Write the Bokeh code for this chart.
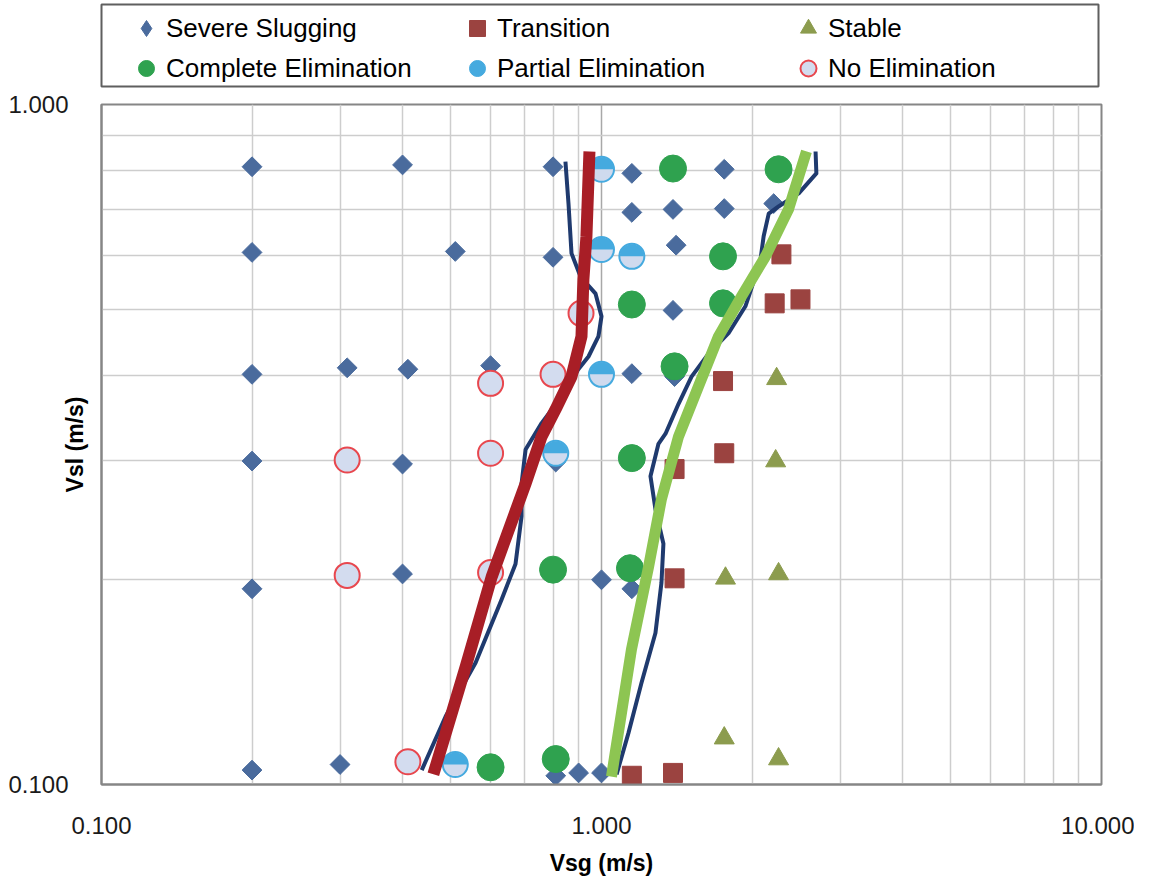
import numpy as np
from bokeh.plotting import figure
from bokeh.layouts import column
from bokeh.models import (FixedTicker, PrintfTickFormatter, Legend, LegendItem,
                          Range1d)
from bokeh.embed import file_html
from bokeh.resources import INLINE

# ---------------- data (Vsg, Vsl in m/s) ----------------
ss_x = [0.20, 0.40, 0.80, 1.15, 1.39, 1.76,
        1.15, 1.39, 1.76, 2.21,
        0.20, 0.51, 0.80, 1.41,
        1.39,
        0.20, 0.31, 0.41, 0.60, 1.15, 1.40,
        0.20, 0.40, 0.81,
        0.20, 0.40, 1.00, 1.15,
        0.20, 0.30, 0.81, 0.90, 1.00]
ss_y = [0.810, 0.815, 0.810, 0.792, 0.805, 0.803,
        0.694, 0.701, 0.703, 0.715,
        0.606, 0.608, 0.596, 0.621,
        0.498,
        0.401, 0.410, 0.408, 0.413, 0.402, 0.398,
        0.299, 0.296, 0.298,
        0.194, 0.204, 0.200, 0.194,
        0.105, 0.107, 0.103, 0.104, 0.104]

tr_x = [2.29, 2.22, 2.50, 1.75, 1.40, 1.76, 1.40, 1.15, 1.39]
tr_y = [0.602, 0.510, 0.517, 0.392, 0.291, 0.307, 0.201, 0.103, 0.104]

st_x = [2.24, 2.23, 1.77, 2.26, 1.76, 2.26]
st_y = [0.395, 0.299, 0.201, 0.204, 0.117, 0.109]

ce_x = [1.39, 2.26, 1.75, 1.15, 1.75, 1.40, 1.15, 0.80, 1.14, 0.60, 0.81]
ce_y = [0.805, 0.803, 0.598, 0.508, 0.510, 0.412, 0.302, 0.207, 0.208, 0.106, 0.109]

pe_x = [1.00, 1.00, 1.15, 1.00, 0.81, 0.51]
pe_y = [0.803, 0.612, 0.598, 0.401, 0.307, 0.107]

ne_x = [0.91, 0.60, 0.80, 0.31, 0.60, 0.31, 0.60, 0.41]
ne_y = [0.493, 0.389, 0.401, 0.300, 0.307, 0.203, 0.205, 0.108]

# thin dark boundary curves
bl_x = [0.847, 0.859, 0.871, 0.908, 0.973, 1.000, 0.986, 0.942, 0.899, 0.832,
        0.759, 0.705, 0.692, 0.692, 0.673, 0.631, 0.560, 0.488, 0.437]
bl_y = [0.824, 0.715, 0.604, 0.558, 0.527, 0.488, 0.456, 0.426, 0.408, 0.372,
        0.340, 0.311, 0.277, 0.248, 0.211, 0.187, 0.151, 0.126, 0.105]
br_x = [2.68, 2.69, 2.48, 2.26, 2.16, 2.11, 2.08, 2.03, 1.94, 1.795, 1.637,
        1.514, 1.426, 1.343, 1.300, 1.253, 1.282, 1.330, 1.318, 1.282, 1.202,
        1.132, 1.072]
br_y = [0.853, 0.792, 0.740, 0.708, 0.691, 0.640, 0.592, 0.558, 0.505, 0.461,
        0.430, 0.398, 0.363, 0.328, 0.317, 0.284, 0.254, 0.226, 0.198, 0.167,
        0.141, 0.119, 0.1035]

# thick trend lines
red_x = [0.946, 0.933, 0.920, 0.912, 0.871, 0.809, 0.759, 0.705, 0.603, 0.535, 0.461]
red_y = [0.853, 0.640, 0.553, 0.456, 0.398, 0.356, 0.325, 0.277, 0.202, 0.149, 0.1035]
grn_x = [1.047, 1.148, 1.242, 1.318, 1.426, 1.563, 1.714, 1.905, 2.128, 2.366, 2.570]
grn_y = [0.1027, 0.158, 0.209, 0.263, 0.325, 0.385, 0.456, 0.522, 0.598, 0.701, 0.853]

x_major = [0.1, 1.0, 10.0]
x_minor = [0.2, 0.3, 0.4, 0.5, 0.6, 0.7, 0.8, 0.9, 2, 3, 4, 5, 6, 7, 8, 9]
y_major = [0.1, 1.0]
y_minor = [0.2, 0.3, 0.4, 0.5, 0.6, 0.7, 0.8, 0.9]

labels = ["Severe Slugging", "Transition", "Stable",
          "Complete Elimination", "Partial Elimination", "No Elimination"]

FONT = "Liberation Sans"
C_SS, C_TR, C_ST, C_CE = "#4A6B9D", "#9B4340", "#8C9C4E", "#2FA24F"
C_PE, C_PE_LO, C_NE, C_NE_FILL = "#45AADF", "#CFDAEE", "#E8474E", "#D3DCEF"

# ---------------- main chart ----------------
p = figure(frame_width=1000, frame_height=680, x_axis_type="log",
           y_axis_type="log", x_range=Range1d(0.1, 10),
           y_range=Range1d(0.1, 1.0), output_backend="svg",
           toolbar_location=None, min_border_left=97, min_border_right=37,
           min_border_top=16, min_border_bottom=91)
p.background_fill_color = "white"
p.border_fill_color = "white"
p.outline_line_color = "#868686"
p.outline_line_width = 2

xt = FixedTicker(ticks=x_major, minor_ticks=x_minor)
yt = FixedTicker(ticks=y_major, minor_ticks=y_minor)
p.xaxis.ticker = xt
p.yaxis.ticker = yt
p.xgrid.ticker = xt
p.ygrid.ticker = yt
for g in (p.xgrid, p.ygrid):
    g.grid_line_color = "#A8A8A8"
    g.grid_line_width = 1.5
    g.minor_grid_line_color = "#CDCDCD"
    g.minor_grid_line_width = 1.5

for ax in (p.xaxis, p.yaxis):
    ax.formatter = PrintfTickFormatter(format="%.3f")
    ax.axis_line_color = "#868686"
    ax.axis_line_width = 2
    ax.major_tick_line_color = None
    ax.minor_tick_line_color = None
    ax.major_label_text_font = FONT
    ax.major_label_text_font_size = "24px"
    ax.major_label_text_color = "#1A1A1A"
    ax.axis_label_text_font = FONT
    ax.axis_label_text_font_size = "23px"
    ax.axis_label_text_font_style = "bold"
    ax.axis_label_text_color = "black"

p.yaxis.major_label_standoff = 27
p.xaxis.major_label_standoff = 26
p.xaxis.axis_label = "Vsg (m/s)"
p.xaxis.axis_label_standoff = 13
p.yaxis.axis_label = "Vsl (m/s)"
p.yaxis.axis_label_standoff = -83

# markers
p.scatter(ss_x, ss_y, marker="square", angle=np.pi / 4, size=14,
          fill_color=C_SS, line_color=C_SS)
p.scatter(tr_x, tr_y, marker="square", size=19, fill_color=C_TR, line_color=C_TR)
p.scatter(st_x, st_y, marker="triangle", size=20, fill_color=C_ST, line_color=C_ST)
p.scatter(ce_x, ce_y, marker="circle", size=27, fill_color=C_CE, line_color=C_CE)
p.scatter(pe_x, pe_y, marker="circle", size=25, fill_color=C_PE_LO,
          line_color=C_PE, line_width=2)
p.wedge(pe_x, pe_y, radius=12, radius_units="screen", start_angle=0,
        end_angle=np.pi, fill_color=C_PE, line_color=None)
p.scatter(ne_x, ne_y, marker="circle", size=25, fill_color=C_NE_FILL,
          line_color=C_NE, line_width=2)

# lines
p.line(bl_x, bl_y, line_color="#1F3A6E", line_width=4, line_join="round")
p.line(br_x, br_y, line_color="#1F3A6E", line_width=4, line_join="round")
p.line(red_x, red_y, line_color="#A81E26", line_width=12, line_join="round")
p.line(grn_x, grn_y, line_color="#8DC552", line_width=11, line_join="round")

# ---------------- legend strip (own small figure; its frame is the box) ----------------
leg = figure(frame_width=997, frame_height=82, x_range=Range1d(0, 1),
             y_range=Range1d(0, 1), output_backend="svg",
             toolbar_location=None, x_axis_location=None,
             y_axis_location=None, min_border_left=101, min_border_right=36,
             min_border_top=4, min_border_bottom=2)
leg.outline_line_color = "#5F5F5F"
leg.outline_line_width = 2
leg.xgrid.visible = False
leg.ygrid.visible = False
off = [-5.0]  # swatch renderers sit outside the visible range
sw = [
    leg.scatter(off, off, marker="diamond", size=20, fill_color=C_SS, line_color=C_SS),
    leg.scatter(off, off, marker="square", size=20, fill_color=C_TR, line_color=C_TR),
    leg.scatter(off, off, marker="triangle", size=20, fill_color=C_ST, line_color=C_ST),
    leg.scatter(off, off, marker="circle", size=20, fill_color=C_CE, line_color=C_CE),
    leg.scatter(off, off, marker="circle", size=20, fill_color=C_PE, line_color=C_PE),
    leg.scatter(off, off, marker="circle", size=20, fill_color=C_NE_FILL,
                line_color=C_NE, line_width=2),
]
legend = Legend(items=[LegendItem(label=l, renderers=[r]) for l, r in zip(labels, sw)],
                ncols=3, orientation="horizontal", location=(25, -2),
                glyph_width=40, glyph_height=40, label_standoff=0,
                label_width=291, spacing=0, padding=0, margin=0,
                label_text_font=FONT, label_text_font_size="26px",
                label_text_color="black",
                border_line_color=None, background_fill_alpha=0)
leg.add_layout(legend)

open("out.html", "w").write(file_html(column(leg, p, spacing=0), INLINE))
